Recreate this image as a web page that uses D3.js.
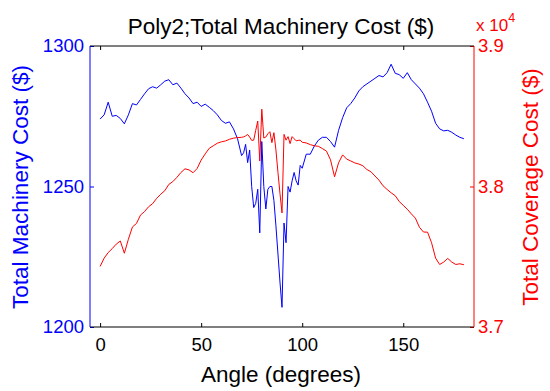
<!DOCTYPE html>
<html>
<head>
<meta charset="utf-8">
<script src="https://cdn.jsdelivr.net/npm/d3@7/dist/d3.min.js"></script>
<style>
  html, body { margin: 0; padding: 0; background: #fff; }
  svg { display: block; }
  text { font-family: "Liberation Sans", Arial, Helvetica, sans-serif; }
</style>
</head>
<body>
<svg id="chart" width="550" height="391"></svg>
<script>
// Sweep angle (degrees)
const angles = [
  0, 2, 4, 6, 8, 10, 12, 14, 16, 18, 20, 22, 24, 26, 28, 30, 32, 34, 36, 38,
  40, 42, 44, 46, 48, 50, 52, 54, 56, 58, 60, 62, 64, 66, 68, 70,
  71, 72, 73, 74, 75, 76, 77, 78, 79, 80, 81, 82, 83, 84, 85, 86, 87, 88, 89, 90,
  91, 92, 93, 94, 95, 96, 97, 98, 99, 100,
  102, 104, 106, 108, 110, 112, 114, 116, 118, 120, 122, 124, 126, 128, 130,
  132, 134, 136, 138, 140, 142, 144, 146, 148, 150, 152, 154, 156, 158, 160,
  162, 164, 166, 168, 170, 172, 174, 176, 178, 180
];

// Total machinery cost ($), left axis
const machineryCost = [
  1274, 1275.5, 1280, 1275, 1275.3, 1274.2, 1272.3, 1275.5, 1279.5, 1279, 1281, 1283, 1284.8, 1285.5, 1285, 1286.2, 1287.5, 1288, 1286.2, 1286.8,
  1285, 1283, 1281.5, 1279.5, 1280, 1278.5, 1279.3, 1278.2, 1277, 1275.5, 1273.5, 1272.5, 1273, 1270.5, 1267, 1261,
  1262, 1265, 1258.5, 1263, 1250, 1242.5, 1244, 1249, 1233.5, 1266, 1250, 1242, 1249, 1250, 1250, 1245, 1236, 1226, 1216, 1207,
  1237, 1230, 1250, 1248, 1252, 1255, 1252, 1250.5, 1257.5, 1256.5,
  1261.5, 1261.5, 1264.4, 1266.5, 1267.5, 1267.5, 1266, 1264, 1270, 1274.5, 1278, 1279.5, 1281.5, 1284, 1285.5,
  1286.5, 1287.5, 1288.5, 1289.5, 1289, 1290.5, 1293.5, 1290.3, 1289.8, 1288.5, 1290.5, 1288, 1286.5, 1285, 1283,
  1280, 1276.8, 1272.5, 1270.5, 1269.8, 1270, 1269.3, 1268.3, 1267.5, 1267
];

// Total coverage cost ($), right axis
const coverageCost = [
  37431, 37490, 37530, 37558, 37590, 37612, 37525, 37625, 37712, 37737, 37797, 37822, 37856, 37878, 37916, 37945, 37970, 38015, 38035, 38065,
  38100, 38126, 38118, 38098, 38128, 38188, 38232, 38272, 38290, 38308, 38318, 38324, 38336, 38344, 38348, 38350,
  38353, 38360, 38370, 38352, 38328, 38330, 38400, 38466, 38181, 38550, 38345, 38352, 38375, 38390, 38312, 38383, 38260, 38100, 37950, 37812,
  38371, 38330, 38355, 38305, 38355, 38340, 38325, 38328, 38330, 38315,
  38310, 38298, 38290, 38286, 38270, 38252, 38190, 38069, 38169, 38225, 38195, 38182, 38168, 38160, 38148,
  38121, 38105, 38075, 38045, 38005, 37979, 37955, 37935, 37893, 37866, 37838, 37805, 37775, 37710, 37676,
  37675, 37600, 37490, 37445, 37462, 37488, 37462, 37445, 37450, 37443
];

const xTicks = [0, 50, 100, 150];
const leftTicks = [1200, 1250, 1300];
const rightTicks = [37000, 38000, 39000];

const BLUE = "#0000ff", RED = "#ff0000";
const plot = { left: 90, right: 474, top: 46, bottom: 327 };

const svg = d3.select("#chart");

const x = d3.scaleLinear().domain([-5, 185]).range([plot.left, plot.right]);
const yL = d3.scaleLinear().domain([1200, 1300]).range([plot.bottom, plot.top]);
const yR = d3.scaleLinear().domain([37000, 39000]).range([plot.bottom, plot.top]);

const tickFont = "18.5px";
const labelFont = "22.5px";

function styleAxis(g, color) {
  g.select(".domain").remove();
  g.selectAll(".tick line").attr("stroke", color).attr("stroke-width", 1);
  g.selectAll(".tick text").attr("fill", color).style("font-size", tickFont)
    .style("font-family", '"Liberation Sans", Arial, sans-serif');
}

// Bottom and top x axes, ticks pointing inward
svg.append("g")
  .attr("transform", `translate(0,${plot.bottom})`)
  .call(d3.axisBottom(x).tickValues(xTicks).tickSizeInner(-4).tickSizeOuter(0).tickPadding(11))
  .call(g => styleAxis(g, "#000"));

svg.append("g")
  .attr("transform", `translate(0,${plot.top})`)
  .call(d3.axisTop(x).tickValues(xTicks).tickSizeInner(-4).tickSizeOuter(0).tickFormat(""))
  .call(g => styleAxis(g, "#000"));

// Left axis (machinery cost)
svg.append("g")
  .attr("transform", `translate(${plot.left},0)`)
  .call(d3.axisLeft(yL).tickValues(leftTicks).tickSizeInner(-4).tickSizeOuter(0).tickPadding(6)
    .tickFormat(d3.format("d")))
  .call(g => styleAxis(g, BLUE));

// Right axis (coverage cost, shown in units of 10^4)
svg.append("g")
  .attr("transform", `translate(${plot.right},0)`)
  .call(d3.axisRight(yR).tickValues(rightTicks).tickSizeInner(-4).tickSizeOuter(0).tickPadding(4)
    .tickFormat(d => d3.format(".1f")(d / 10000)))
  .call(g => styleAxis(g, RED));

// Series lines
svg.append("clipPath").attr("id", "plot-clip")
  .append("rect").attr("x", plot.left).attr("y", plot.top)
  .attr("width", plot.right - plot.left).attr("height", plot.bottom - plot.top);

const blueLine = d3.line().x((d, i) => x(angles[i])).y(d => yL(d));
const redLine = d3.line().x((d, i) => x(angles[i])).y(d => yR(d));

svg.append("path").datum(machineryCost)
  .attr("d", blueLine).attr("fill", "none").attr("stroke", BLUE).attr("stroke-width", 1)
  .attr("clip-path", "url(#plot-clip)");

svg.append("path").datum(coverageCost)
  .attr("d", redLine).attr("fill", "none").attr("stroke", RED).attr("stroke-width", 1)
  .attr("clip-path", "url(#plot-clip)");

// Frame
svg.append("line").attr("x1", plot.left).attr("x2", plot.right).attr("y1", plot.top).attr("y2", plot.top)
  .attr("stroke", "#000");
svg.append("line").attr("x1", plot.left).attr("x2", plot.right).attr("y1", plot.bottom).attr("y2", plot.bottom)
  .attr("stroke", "#000");
svg.append("line").attr("x1", plot.left).attr("x2", plot.left).attr("y1", plot.top).attr("y2", plot.bottom)
  .attr("stroke", BLUE);
svg.append("line").attr("x1", plot.right).attr("x2", plot.right).attr("y1", plot.top).attr("y2", plot.bottom)
  .attr("stroke", RED);

// Exponent marker for the right axis
const expo = svg.append("text").attr("x", 476).attr("y", 31).attr("fill", RED).style("font-size", "17px");
expo.append("tspan").text("x 10");
expo.append("tspan").attr("dy", -9).style("font-size", "12.5px").text("4");

// Title and axis labels
svg.append("text").attr("x", 281).attr("y", 34).attr("text-anchor", "middle")
  .attr("fill", "#000").style("font-size", labelFont).text("Poly2;Total Machinery Cost ($)");

svg.append("text").attr("x", 281).attr("y", 382).attr("text-anchor", "middle")
  .attr("fill", "#000").style("font-size", labelFont).text("Angle (degrees)");

svg.append("text").attr("transform", "translate(28,187) rotate(-90)").attr("text-anchor", "middle")
  .attr("fill", BLUE).style("font-size", labelFont).text("Total Machinery Cost ($)");

svg.append("text").attr("transform", "translate(538,187) rotate(-90)").attr("text-anchor", "middle")
  .attr("fill", RED).style("font-size", labelFont).text("Total Coverage Cost ($)");
</script>
</body>
</html>
